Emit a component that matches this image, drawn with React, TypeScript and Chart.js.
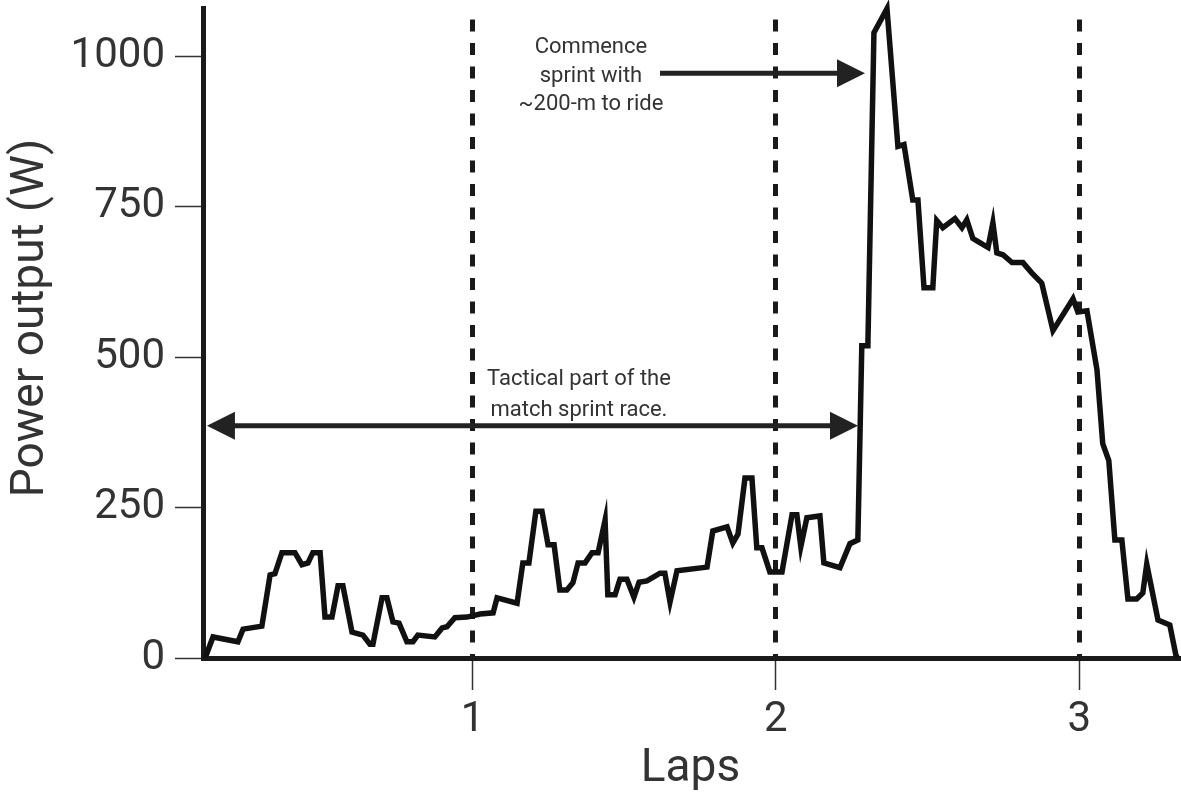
import React, { useEffect, useRef } from 'react';
import { Chart, registerables } from 'chart.js';

Chart.register(...registerables);

// Lap position (x) of each vertex of the power trace
const lapPositions = [
  0.119, 0.145, 0.227, 0.244, 0.306, 0.333, 0.349, 0.372, 0.415, 0.438,
  0.458, 0.474, 0.498, 0.514, 0.537, 0.557, 0.573, 0.603, 0.639, 0.662,
  0.672, 0.702, 0.718, 0.738, 0.758, 0.784, 0.804, 0.82, 0.876, 0.9,
  0.916, 0.942, 0.982, 1.025, 1.068, 1.081, 1.147, 1.166, 1.186, 1.209,
  1.229, 1.249, 1.269, 1.288, 1.311, 1.331, 1.348, 1.371, 1.394, 1.414,
  1.437, 1.446, 1.47, 1.486, 1.509, 1.532, 1.549, 1.575, 1.618, 1.634,
  1.651, 1.674, 1.773, 1.792, 1.839, 1.858, 1.875, 1.898, 1.921, 1.937,
  1.954, 1.98, 2.02, 2.053, 2.069, 2.082, 2.102, 2.145, 2.158, 2.211,
  2.244, 2.27, 2.283, 2.303, 2.323, 2.366, 2.402, 2.422, 2.451, 2.468,
  2.488, 2.517, 2.53, 2.55, 2.59, 2.613, 2.629, 2.649, 2.672, 2.699,
  2.715, 2.728, 2.748, 2.778, 2.814, 2.843, 2.876, 2.913, 2.979, 2.995,
  3.025, 3.058, 3.077, 3.097, 3.117, 3.14, 3.16, 3.189, 3.209, 3.222,
  3.259, 3.298, 3.318, 3.323,
];

// Power output (W) at each vertex
const powerWatts = [
  0, 35, 27, 48, 53, 138, 140, 175, 175, 155,
  158, 175, 175, 68, 68, 120, 120, 43, 38, 23,
  23, 100, 100, 60, 58, 27, 27, 38, 35, 50,
  52, 67, 68, 73, 75, 100, 91, 158, 158, 244,
  244, 188, 188, 113, 113, 125, 158, 158, 175, 175,
  229, 105, 105, 131, 131, 101, 126, 128, 141, 141,
  93, 145, 151, 211, 218, 191, 206, 299, 299, 183,
  183, 143, 143, 238, 238, 185, 233, 236, 158, 150,
  190, 196, 519, 519, 1039, 1079, 850, 853, 761, 761,
  615, 615, 727, 715, 730, 715, 728, 697, 690, 682,
  723, 673, 670, 657, 657, 640, 623, 544, 597, 575,
  577, 479, 356, 328, 196, 196, 98, 98, 108, 156,
  63, 55, 5, 0,
];

const xTickLaps = [1, 2, 3];
const yTickWatts = [0, 250, 500, 750, 1000];
const xAxisTitle = 'Laps';
const yAxisTitle = 'Power output (W)';
const tacticalText = ['Tactical part of the', 'match sprint race.'];
const sprintText = ['Commence', 'sprint with', '~200-m to ride'];

const FONT = 'Roboto';
const TEXT_COLOR = '#333';

const annotationPlugin = {
  id: 'raceAnnotations',
  afterDatasetsDraw(chart: any) {
    const { ctx, scales } = chart;
    const x = scales.x;
    const y = scales.y;
    const px = (v: number) => x.getPixelForValue(v);
    const py = (v: number) => y.getPixelForValue(v);
    ctx.save();
    ctx.strokeStyle = '#222';
    ctx.fillStyle = '#222';
    ctx.lineWidth = 5;
    const head = (tipX: number, tipY: number, dir: number) => {
      ctx.beginPath();
      ctx.moveTo(tipX, tipY);
      ctx.lineTo(tipX - dir * 28, tipY - 14);
      ctx.lineTo(tipX - dir * 28, tipY + 14);
      ctx.closePath();
      ctx.fill();
    };
    // Tactical double arrow
    const ty = py(386);
    const tx1 = px(0.125);
    const tx2 = px(2.2705);
    ctx.beginPath();
    ctx.moveTo(tx1 + 20, ty);
    ctx.lineTo(tx2 - 20, ty);
    ctx.stroke();
    head(tx1, ty, -1);
    head(tx2, ty, 1);
    // Sprint arrow
    const sy = py(971.5);
    const sx1 = px(1.618);
    const sx2 = px(2.2935);
    ctx.beginPath();
    ctx.moveTo(sx1, sy);
    ctx.lineTo(sx2 - 20, sy);
    ctx.stroke();
    head(sx2, sy, 1);

    ctx.fillStyle = TEXT_COLOR;
    ctx.font = `22px ${FONT}`;
    ctx.textAlign = 'center';
    ctx.textBaseline = 'middle';
    const tacticalY = [462, 412];
    tacticalText.forEach((t, i) => ctx.fillText(t, px(1.351), py(tacticalY[i])));
    const sprintY = [1015, 967, 919];
    sprintText.forEach((t, i) => ctx.fillText(t, px(1.3905), py(sprintY[i])));

    // Y axis title (placed slightly above the plot-area centre, as in the figure)
    ctx.save();
    ctx.translate(31, py(565));
    ctx.rotate(-Math.PI / 2);
    ctx.font = `46px ${FONT}`;
    ctx.fillText(yAxisTitle, 0, 0);
    ctx.restore();
    ctx.restore();
  },
};

export default function App() {
  const ref = useRef<HTMLCanvasElement>(null);
  useEffect(() => {
    const canvas = ref.current;
    if (!canvas) return;
    const chart = new Chart(canvas, {
      type: 'line',
      data: {
        datasets: [
          {
            label: yAxisTitle,
            data: lapPositions.map((lap, i) => ({ x: lap, y: powerWatts[i] })),
            borderColor: '#111',
            borderWidth: 5.5,
            pointRadius: 0,
            tension: 0,
            borderJoinStyle: 'miter',
            fill: false,
            clip: false,
          } as any,
        ],
      },
      options: {
        responsive: false,
        animation: false,
        devicePixelRatio: 1,
        layout: { padding: { top: 8, right: 3, left: 0, bottom: 0 } },
        plugins: { legend: { display: false }, tooltip: { enabled: false } },
        scales: {
          x: {
            type: 'linear',
            min: 0.112,
            max: 3.325,
            afterBuildTicks: (s: any) => {
              s.ticks = xTickLaps.map((v) => ({ value: v }));
            },
            afterFit: (s: any) => {
              s.height = 141;
              s.paddingLeft = 0;
              s.paddingRight = 0;
            },
            ticks: {
              font: { family: FONT, size: 42 },
              color: TEXT_COLOR,
              padding: 5,
              maxRotation: 0,
              autoSkip: false,
              callback: (v: any) => String(v),
            },
            grid: {
              display: true,
              drawOnChartArea: true,
              drawTicks: true,
              color: '#1a1a1a',
              lineWidth: 5,
              tickLength: 32,
              tickWidth: 1.5,
              tickColor: '#333',
            },
            border: { display: true, color: '#1a1a1a', width: 5, dash: [12, 11.5], dashOffset: 12 },
            title: {
              display: true,
              text: xAxisTitle,
              font: { family: FONT, size: 46 },
              color: TEXT_COLOR,
              padding: { top: 0, bottom: 2 },
            },
          },
          y: {
            type: 'linear',
            min: 0,
            max: 1080,
            afterBuildTicks: (s: any) => {
              s.ticks = yTickWatts.map((v) => ({ value: v }));
            },
            afterFit: (s: any) => {
              s.width = 203;
              s.paddingTop = 0;
              s.paddingBottom = 0;
            },
            ticks: {
              font: { family: FONT, size: 42 },
              color: TEXT_COLOR,
              padding: 10,
              callback: (v: any) => String(v),
            },
            grid: {
              display: true,
              drawOnChartArea: false,
              drawTicks: true,
              tickLength: 28,
              tickWidth: 1.5,
              tickColor: '#333',
            },
            border: { display: true, color: '#1a1a1a', width: 5 },
            title: { display: false, text: yAxisTitle },
          },
        },
      } as any,
      plugins: [annotationPlugin],
    });
    return () => chart.destroy();
  }, []);
  return (
    <div style={{ position: 'absolute', left: 0, top: 0, width: 1181, height: 799, background: '#fff' }}>
      <canvas ref={ref} width={1181} height={799} style={{ display: 'block', width: 1181, height: 799 }} />
    </div>
  );
}
